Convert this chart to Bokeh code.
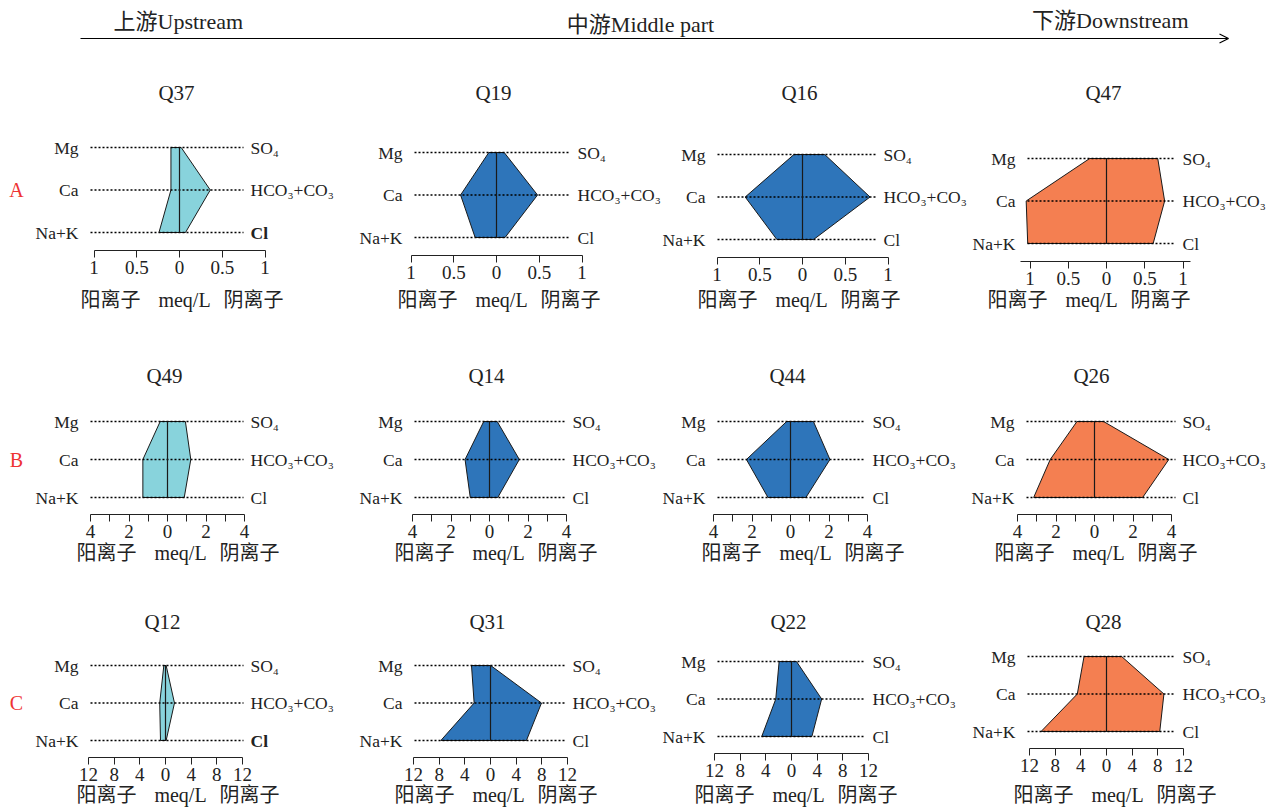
from bokeh.plotting import figure
from bokeh.models import (Range1d, LinearAxis, FixedTicker, CustomJSTickFormatter,
                          Arrow, OpenHead, ColumnDataSource)
from bokeh.layouts import row, column
from bokeh.core.properties import value
from bokeh.embed import file_html
from bokeh.resources import INLINE

# ---------------- data (meq/L) ----------------
samples = ["Q37", "Q19", "Q16", "Q47",
           "Q49", "Q14", "Q44", "Q26",
           "Q12", "Q31", "Q22", "Q28"]
reach = ["up", "mid", "mid", "down"] * 3
row_names = ["A", "B", "C"]
cation_names = ["Na+K", "Ca", "Mg"]
anion_names = ["Cl", "HCO₃+CO₃", "SO₄"]
na_k = [0.24, 0.25, 0.30, 1.03, 1.28, 1.00, 1.17, 3.16, 0.78, 7.74, 4.64, 10.2]
ca   = [0.10, 0.42, 0.67, 1.05, 1.28, 1.27, 2.29, 2.30, 0.90, 2.55, 2.45, 4.55]
mg   = [0.10, 0.09, 0.10, 0.22, 0.38, 0.30, 0.20, 0.91, 0.26, 2.96, 1.93, 3.50]
cl   = [0.07, 0.10, 0.13, 0.61, 0.87, 0.43, 0.80, 2.50, 0.10, 5.60, 3.18, 8.30]
hco3 = [0.36, 0.48, 0.79, 0.76, 1.21, 1.55, 2.05, 3.86, 1.40, 7.95, 4.70, 8.95]
so4  = [0.02, 0.09, 0.26, 0.67, 0.93, 0.40, 1.19, 0.47, 0.10, 0.03, 0.78, 2.36]
row_ticks = [[-1, -0.5, 0, 0.5, 1], [-4, -2, 0, 2, 4], [-12, -8, -4, 0, 4, 8, 12]]
row_minor = [[], [-3, -1, 1, 3], []]
row_lim = [1.0, 4.0, 12.0]
header_texts = ["上游Upstream", "中游Middle part", "下游Downstream"]
axis_words = ["阳离子", "meq/L", "阴离子"]

# ---------------- layout / style ----------------
SERIF = "Liberation Serif, DejaVu Serif, Noto Sans CJK SC"
INK = "#222222"
FILL = {"up": "#88D3DC", "mid": "#2E75BA", "down": "#F47F51"}
COL_W = [345, 317, 308, 306]
HEADER_H = 56
PANEL_TOP = [56, 313, 566]
PANEL_H = [257, 253, 242]
ROW_G = [42.5, 38.0, 37.5]
ROW_B = [18, 17, 17]
TITLE_REL = [36, 62, 55]
LABEL_Y = [300, 553, 795]
CX = [179, 151, 140, 136, 167, 144, 128, 124, 165, 145, 129, 136]
UNIT_PX = [85.5, 85.5, 85.5, 76.5] + [19.25] * 4 + [77 / 12] * 4
AX_EXT = [(1, 1), (1, 1), (1, 1), (1.12, 1.10)] + [(1, 1)] * 8
LG = [101, 94, 97, 91, 89, 87, 85, 80, 87, 88, 86, 91]
RG = [71, 81, 81, 76, 83, 83, 82, 88, 85, 82, 81, 76]
AXIS_Y = [250, 255, 257, 261, 514, 514, 514, 514, 757, 757, 753, 748]
MX = [5, 5, -1, -15, 13, 9, 15, 4, 15, 8, 7, 11]
BOLD_CL = {0, 8}
ION_SIZE = "17.5px"


def panel(i):
    r, c = divmod(i, 4)
    W = COL_W[c]
    s = UNIT_PX[i]
    FH = AXIS_Y[i] - PANEL_TOP[r]
    g, b = ROW_G[r], ROW_B[r]
    y_top = (FH - b) / g
    p = figure(frame_width=W, frame_height=FH, title=None,
               x_range=Range1d(-CX[i] / s, (W - CX[i]) / s),
               y_range=Range1d(-b / g, y_top),
               x_axis_location=None, y_axis_location=None,
               toolbar_location=None, output_backend="svg",
               min_border_left=0, min_border_right=0, min_border_top=0,
               min_border_bottom=PANEL_H[r] - FH,
               outline_line_color=None, align="start")
    p.grid.grid_line_color = None

    levels = [0, 1, 2]
    xs = [-na_k[i], -ca[i], -mg[i], so4[i], hco3[i], cl[i]]
    ys = [0, 1, 2, 2, 1, 0]
    p.patch(xs, ys, fill_color=FILL[reach[i]], line_color="#1a1a1a", line_width=1)

    xl = -(LG[i] - 12) / s
    xr = (RG[i] - 7) / s
    p.segment(x0=[xl] * 3, y0=levels, x1=[xr] * 3, y1=levels,
              line_color="black", line_width=1.3, line_dash="2 2")
    p.segment(x0=[0], y0=[0], x1=[0], y1=[2], line_color="#1a1a1a", line_width=1.2)

    p.text(x=[0] * 3, y=levels, text=cation_names, x_offset=-LG[i],
           text_align="right", text_baseline="middle", text_font=value(SERIF),
           text_font_size=ION_SIZE, text_color=INK)
    styles = ["bold" if (k == 0 and i in BOLD_CL) else "normal" for k in range(3)]
    an_src = ColumnDataSource(dict(x=[0] * 3, y=levels, t=anion_names, st=styles))
    p.text(x="x", y="y", text="t", source=an_src, x_offset=RG[i],
           text_align="left", text_baseline="middle", text_font=value(SERIF),
           text_font_style="st", text_font_size=ION_SIZE, text_color=INK)
    p.text(x=[0], y=[y_top], text=[samples[i]], x_offset=-3, y_offset=TITLE_REL[r],
           text_align="center", text_baseline="middle", text_font=value(SERIF),
           text_font_size="21px", text_color=INK)
    if c == 0:
        p.text(x=[0], y=[1], text=[row_names[r]], x_offset=-(CX[i] - 16),
               text_align="center", text_baseline="middle", text_font=value(SERIF),
               text_font_size="20px", text_color="#EE3333")

    lo, hi = AX_EXT[i]
    lim = row_lim[r]
    ax = LinearAxis(ticker=FixedTicker(ticks=row_ticks[r], minor_ticks=row_minor[r]),
                    formatter=CustomJSTickFormatter(code="return Math.abs(tick).toString()"),
                    bounds=(-lim * lo, lim * hi),
                    axis_line_color=INK, axis_line_width=1,
                    major_tick_line_color=INK, minor_tick_line_color=INK,
                    major_tick_in=0, major_tick_out=7, minor_tick_in=0, minor_tick_out=7,
                    major_label_standoff=3,
                    major_label_text_font=SERIF, major_label_text_font_size="19px",
                    major_label_text_color=INK)
    p.add_layout(ax, "below")

    # second, line-less axis carrying the "阳离子 meq/L 阴离子" caption
    word_pos = [(MX[i] - 74) / s, MX[i] / s, (MX[i] + 69) / s]
    cap = LinearAxis(ticker=FixedTicker(ticks=word_pos, minor_ticks=[]),
                     formatter=CustomJSTickFormatter(args=dict(words=axis_words),
                                                     code="return words[index]"),
                     axis_line_color=None, major_tick_line_color=None,
                     minor_tick_line_color=None, major_tick_in=0, major_tick_out=0,
                     minor_tick_in=0, minor_tick_out=0,
                     major_label_standoff=max(0, LABEL_Y[r] - AXIS_Y[i] - 38),
                     major_label_text_font=SERIF, major_label_text_font_size="20px",
                     major_label_text_color=INK)
    p.add_layout(cap, "below")
    return p


# ---------------- header ----------------
h = figure(width=1276, height=HEADER_H, title=None, x_range=Range1d(0, 1276),
           y_range=Range1d(HEADER_H, 0),
           x_axis_location=None, y_axis_location=None, toolbar_location=None,
           output_backend="svg", min_border=0, outline_line_color=None)
h.grid.grid_line_color = None
h.add_layout(Arrow(end=OpenHead(size=9, line_width=1.2, line_color="black"),
                   x_start=80, y_start=38, x_end=1228, y_end=38,
                   line_width=1.2, line_color="black"))
h.text(x=[113], y=[21], text=[header_texts[0]], text_align="left", text_baseline="middle",
       text_font=value(SERIF), text_font_size="22px", text_color=INK)
h.text(x=[640], y=[24], text=[header_texts[1]], text_align="center", text_baseline="middle",
       text_font=value(SERIF), text_font_size="22px", text_color=INK)
h.text(x=[1188], y=[20], text=[header_texts[2]], text_align="right", text_baseline="middle",
       text_font=value(SERIF), text_font_size="22px", text_color=INK)

blocks = [h]
for r in range(3):
    blocks.append(row(*[panel(r * 4 + c) for c in range(4)], spacing=0))
layout = column(*blocks, spacing=0)

open("out.html", "w").write(file_html(layout, INLINE))
